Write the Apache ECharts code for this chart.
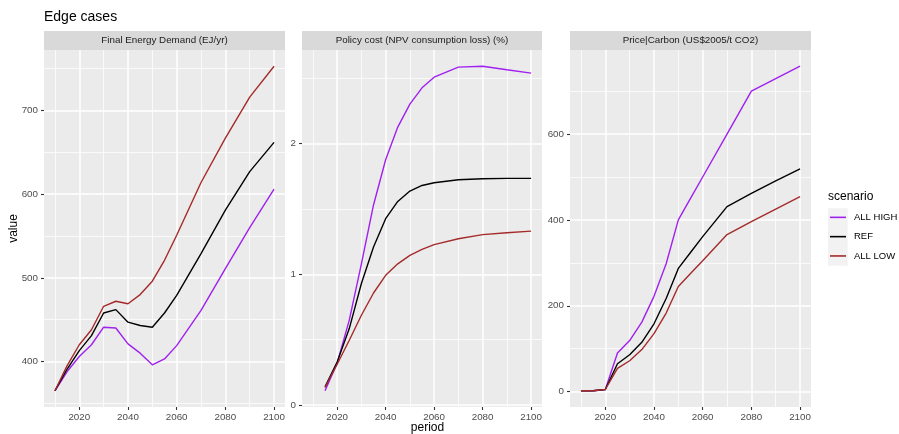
<!DOCTYPE html>
<html><head><meta charset="utf-8">
<script src="https://cdn.jsdelivr.net/npm/echarts@6/dist/echarts.min.js"></script>
<style>html,body{margin:0;padding:0;background:#fff}#c{width:899px;height:434px}</style>
</head><body><div id="c"></div>
<script>
const years = [2010,2015,2020,2025,2030,2035,2040,2045,2050,2055,2060,2070,2080,2090,2100];
const scenarios = ['ALL HIGH','REF','ALL LOW'];
const colors = ['#A020F0','#000000','#A52A2A'];
const panelTitles = ['Final Energy Demand (EJ/yr)','Policy cost (NPV consumption loss) (%)','Price|Carbon (US$2005/t CO2)'];

// Final Energy Demand
const fedHigh = [365,388,406,420,441,440,421,410,396,403,419,461,511,560,606];
const fedRef  = [365,391,413,431,458,462,447,443,441,458,479,529,581,627,662];
const fedLow  = [365,395,420,438,466,472,469,480,496,521,551,614,667,716,753];
// Policy cost (no 2010 value)
const pcHigh = [null,0.11,0.32,0.65,1.08,1.53,1.875,2.125,2.30,2.425,2.506,2.583,2.59,2.563,2.537];
const pcRef  = [null,0.14,0.33,0.585,0.93,1.208,1.425,1.557,1.636,1.679,1.70,1.723,1.73,1.733,1.733];
const pcLow  = [null,0.135,0.313,0.496,0.687,0.857,0.992,1.08,1.145,1.19,1.227,1.272,1.303,1.318,1.33];
// Carbon price
const cpHigh = [2,2,5,90,119,162,222,298,400,450,500,600,700,729,758];
const cpRef  = [2,2,5,65,86,115,158,217,287,324,361,431,462,491,519];
const cpLow  = [2,2,5,54,72,98,135,183,245,275,305,366,396,425,454];

const xBreaks = [2020,2040,2060,2080,2100];
const xMinor  = [2010,2030,2050,2070,2090];
const yBreaks = [[400,500,600,700],[0,1,2],[0,200,400,600]];
const yMinor  = [[350,450,550,650,750],[0.5,1.5,2.5],[100,300,500,700]];

const panelData = [[fedHigh,fedRef,fedLow],[pcHigh,pcRef,pcLow],[cpHigh,cpRef,cpLow]];
const FONT = '"Liberation Sans", Arial, Helvetica, sans-serif';
const gridBoxes = [
  {left:44, width:241},
  {left:302, width:240},
  {left:570, width:241}
];
const TOP = 50, HEIGHT = 357;

function expand(lo, hi){ const d = (hi-lo)*0.05; return [lo-d, hi+d]; }
const xLim = expand(Math.min(...years), Math.max(...years));

const grid=[], xAxis=[], yAxis=[], series=[], graphic=[];
panelData.forEach((pd, i) => {
  const vals = pd.flat().filter(v => v !== null);
  const yLim = expand(Math.min(...vals), Math.max(...vals));
  const g = gridBoxes[i];
  grid.push({left:g.left, top:TOP, width:g.width, height:HEIGHT, show:true, backgroundColor:'#EBEBEB', borderWidth:0, containLabel:false});
  xAxis.push({gridIndex:i, type:'value', min:xLim[0], max:xLim[1], position:'bottom',
    axisLine:{show:false, onZero:false},
    axisTick:{show:true, length:3, lineStyle:{color:'#333333', width:1.1}, customValues:xBreaks},
    axisLabel:{customValues:xBreaks, color:'#4D4D4D', fontSize:9.8, margin:5, fontFamily:FONT, formatter:v=>String(v)},
    splitLine:{show:true, lineStyle:{color:'#FFFFFF', width:1.5}}, z:2});
  xAxis.push({gridIndex:i, type:'value', min:xLim[0], max:xLim[1], position:'bottom',
    axisLine:{show:false, onZero:false}, axisTick:{show:false, customValues:xMinor}, axisLabel:{show:false},
    splitLine:{show:true, lineStyle:{color:'#FFFFFF', width:0.75}}, z:1});
  yAxis.push({gridIndex:i, type:'value', min:yLim[0], max:yLim[1], position:'left',
    axisLine:{show:false, onZero:false},
    axisTick:{show:true, length:3, lineStyle:{color:'#333333', width:1.1}, customValues:yBreaks[i]},
    axisLabel:{customValues:yBreaks[i], color:'#4D4D4D', fontSize:9.8, margin:6, fontFamily:FONT, formatter:v=>String(v)},
    splitLine:{show:true, lineStyle:{color:'#FFFFFF', width:1.5}}, z:2});
  yAxis.push({gridIndex:i, type:'value', min:yLim[0], max:yLim[1], position:'left',
    axisLine:{show:false, onZero:false}, axisTick:{show:false, customValues:yMinor[i]}, axisLabel:{show:false},
    splitLine:{show:true, lineStyle:{color:'#FFFFFF', width:0.75}}, z:1});
  pd.forEach((arr, s) => {
    const data = [];
    arr.forEach((v, k) => { if (v !== null) data.push([years[k], v]); });
    series.push({type:'line', name:scenarios[s], xAxisIndex:2*i, yAxisIndex:2*i, data,
      symbol:'none', showSymbol:false, lineStyle:{width:1.4, color:colors[s]}, itemStyle:{color:colors[s]},
      animation:false, silent:true, z:3});
  });
  graphic.push({type:'rect', shape:{x:g.left, y:31, width:g.width, height:19}, style:{fill:'#D9D9D9'}});
  graphic.push({type:'text', x:g.left+g.width/2, y:40.5, style:{text:panelTitles[i], fill:'#1A1A1A',
    font:'9.8px '+FONT, textAlign:'center', textVerticalAlign:'middle', align:'center', verticalAlign:'middle'}});
});

graphic.push({type:'text', x:44, y:17, style:{text:'Edge cases', fill:'#000', font:'14px '+FONT,
  textAlign:'left', textVerticalAlign:'middle', align:'left', verticalAlign:'middle'}});
graphic.push({type:'text', x:13.5, y:228.5, rotation:Math.PI/2, style:{text:'value', fill:'#000', font:'12px '+FONT,
  textAlign:'center', textVerticalAlign:'middle', align:'center', verticalAlign:'middle'}});
graphic.push({type:'text', x:427.5, y:428, style:{text:'period', fill:'#000', font:'12px '+FONT,
  textAlign:'center', textVerticalAlign:'middle', align:'center', verticalAlign:'middle'}});
graphic.push({type:'text', x:828, y:197, style:{text:'scenario', fill:'#000', font:'12px '+FONT,
  textAlign:'left', textVerticalAlign:'middle', align:'left', verticalAlign:'middle'}});
graphic.push({type:'rect', z:-1, shape:{x:828, y:208.3, width:19.7, height:57.4}, style:{fill:'#F2F2F2'}});

const chart = echarts.init(document.getElementById('c'), null, {renderer:'canvas'});
chart.setOption({
  backgroundColor:'#FFFFFF',
  animation:false,
  grid, xAxis, yAxis, series,
  legend:{data:scenarios, orient:'vertical', left:830, top:207.7, itemWidth:16, itemHeight:1.6, icon:'rect',
    itemGap:0, selectedMode:false, padding:0,
    textStyle:{fontSize:9.5, color:'#000', fontFamily:FONT, lineHeight:19.3, height:19.3, padding:[0,0,0,3]}},
  graphic:{elements:graphic}
});
</script>
</body></html>
